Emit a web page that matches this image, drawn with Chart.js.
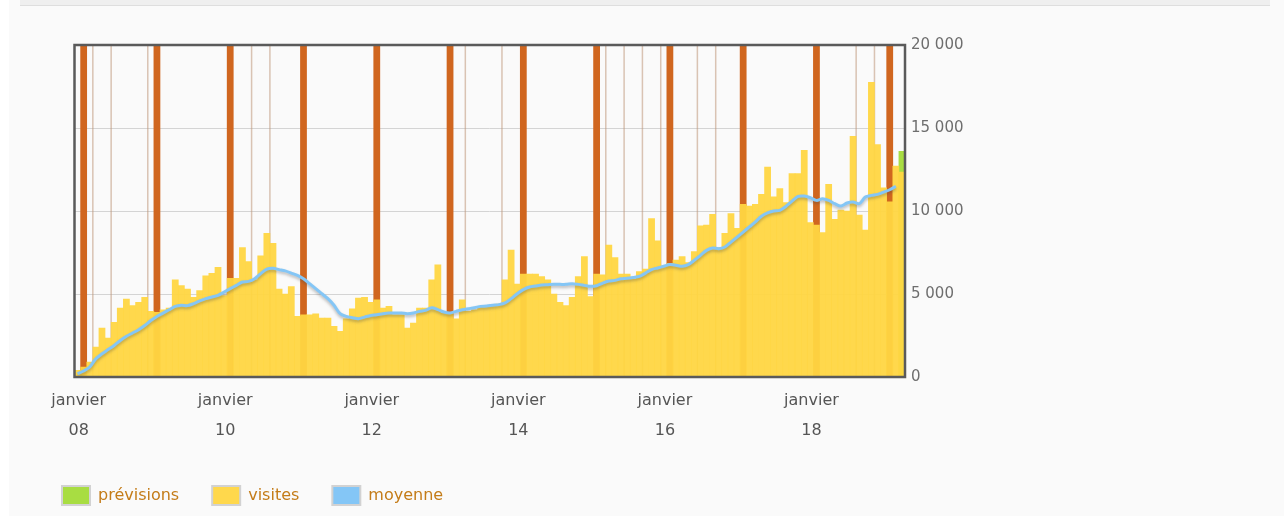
<!DOCTYPE html>
<html><head><meta charset="utf-8">
<script src="https://cdn.jsdelivr.net/npm/chart.js@4/dist/chart.umd.min.js"></script>
<style>
html,body{margin:0;padding:0;background:#fafafa;}
#wrap{position:relative;width:1284px;height:516px;overflow:hidden;}
#strip{position:absolute;left:0;top:0;width:9px;height:516px;background:#fff;}
#band{position:absolute;left:20px;top:0;width:1250px;height:5px;background:#efefef;border-bottom:1px solid #dedede;}
canvas{position:absolute;left:0;top:0;}
</style></head>
<body><div id="wrap"><div id="strip"></div><div id="band"></div><canvas id="c" width="1284" height="516"></canvas></div>
<script>
// Months from 2007-12 to 2019-03 (136 monthly slots)
const categories = [];
for (let i = 0; i < 136; i++) {
  const k = 11 + i;
  categories.push((2007 + Math.floor(k / 12)) + '-' + String(k % 12 + 1).padStart(2, '0'));
}
const tickMonths = ['2008-01', '2010-01', '2012-01', '2014-01', '2016-01', '2018-01'];
const tickText = [['janvier', '08'], ['janvier', '10'], ['janvier', '12'], ['janvier', '14'], ['janvier', '16'], ['janvier', '18']];
const yTicks = [0, 5000, 10000, 15000, 20000];

const visites = [
  400, 600, 900, 1800, 2950, 2350, 3300, 4150, 4700, 4300, 4500, 4800,
  3950, 3900, 4050, 4150, 5850, 5500, 5300, 4800, 5200, 6100, 6250, 6600,
  4900, 5950, 5950, 7800, 6950, 5850, 7300, 8650, 8050, 5300, 5000, 5450,
  3650, 3750, 3750, 3800, 3550, 3550, 3050, 2750, 3500, 4100, 4750, 4800,
  4500, 4650, 4150, 4250, 3750, 3750, 2950, 3250, 4150, 4150, 5850, 6750,
  3850, 3850, 3500, 4650, 3950, 4050, 4250, 4300, 4350, 4400, 5850, 7650,
  5600, 6200, 6200, 6200, 6050, 5850, 5000, 4500, 4300, 4800, 6050, 7250,
  4850, 6200, 6150, 7950, 7200, 6200, 6200, 5900, 6350, 6500, 9550, 8200,
  6700, 6850, 7050, 7250, 6900, 7550, 9100, 9150, 9800, 7800, 8650, 9850,
  8950, 10400, 10300, 10400, 11000, 12650, 10850, 11350, 10500, 12250, 12250, 13650,
  9300, 9150, 8700, 11600, 9500, 10050, 10000, 14500, 9750, 8850, 17750, 14000,
  11400, 10550, 12700, 12350
];
const moyenne = [
  200, 360, 600, 1100, 1400, 1650, 1900, 2200, 2450, 2650, 2850, 3100,
  3400, 3650, 3850, 4050, 4250, 4320, 4300, 4420, 4580, 4720, 4820, 4920,
  5120, 5320, 5520, 5720, 5760, 5920, 6230, 6500, 6550, 6470, 6390, 6260,
  6120, 5920, 5620, 5320, 5020, 4720, 4320, 3815, 3650, 3570, 3510, 3610,
  3710, 3750, 3815, 3855, 3855, 3855, 3815, 3855, 3955, 4015, 4175, 4055,
  3915, 3855, 3955, 4055, 4115, 4175, 4255, 4275, 4320, 4360, 4460, 4720,
  5020, 5260, 5420, 5480, 5540, 5560, 5580, 5580, 5580, 5620, 5580, 5520,
  5460, 5500, 5660, 5780, 5820, 5920, 5950, 6000, 6060, 6260, 6470, 6570,
  6670, 6770, 6730, 6670, 6770, 7030, 7330, 7630, 7770, 7730, 7830, 8130,
  8430, 8730, 9040, 9340, 9680, 9880, 10000, 10040, 10280, 10600, 10880, 10900,
  10800, 10640, 10740, 10640, 10440, 10300, 10480, 10540, 10440, 10840, 10940, 11000,
  11140, 11280, 11490, null
];
const previsionsMonths = ['2019-03'];
const previsionsValues = [13600];
const janvierMonths = ['2008-01', '2009-01', '2010-01', '2011-01', '2012-01', '2013-01', '2014-01', '2015-01', '2016-01', '2017-01', '2018-01', '2019-01'];
const noteMonths = ['2008-03', '2008-06', '2008-12', '2010-05', '2010-08', '2013-04', '2013-10', '2015-03', '2015-06', '2015-09', '2015-12', '2016-06', '2016-09', '2018-08', '2018-11'];

const COL = { prev: '#a8dd42', vis: 'rgba(255,214,66,0.95)', visSolid: '#ffd84c', moy: '#84c6f6', jan: '#d0661f', note: 'rgba(190,150,120,0.55)' };
const legendFill = [COL.moy, COL.visSolid, COL.prev];

const notesPlugin = {
  id: 'notes',
  beforeDatasetsDraw(chart) {
    const xs = chart.scales.x, a = chart.chartArea, ctx = chart.ctx;
    const w = xs.getPixelForValue(1) - xs.getPixelForValue(0);
    ctx.save();
    ctx.strokeStyle = COL.note; ctx.lineWidth = 1.5;
    noteMonths.forEach(m => {
      const x = xs.getPixelForValue(categories.indexOf(m)) - w / 2;
      ctx.beginPath(); ctx.moveTo(x, a.top); ctx.lineTo(x, a.bottom); ctx.stroke();
    });
    ctx.restore();
  }
};
const shadowPlugin = {
  id: 'lineShadow',
  beforeDatasetDraw(chart, args) {
    if (args.meta.type === 'line') {
      const c = chart.ctx; c.save();
      c.shadowColor = 'rgba(70,70,70,0.35)'; c.shadowBlur = 3; c.shadowOffsetY = 2;
    }
  },
  afterDatasetDraw(chart, args) { if (args.meta.type === 'line') chart.ctx.restore(); }
};
const framePlugin = {
  id: 'frame',
  afterDatasetsDraw(chart) {
    const a = chart.chartArea, ctx = chart.ctx;
    ctx.save(); ctx.strokeStyle = '#5a5a5a'; ctx.lineWidth = 2.5;
    ctx.strokeRect(a.left, a.top, a.right - a.left, a.bottom - a.top);
    ctx.restore();
  }
};

new Chart(document.getElementById('c'), {
  type: 'bar',
  data: {
    labels: categories,
    datasets: [
      { type: 'line', label: 'moyenne', data: moyenne, borderColor: COL.moy, backgroundColor: COL.moy,
        borderWidth: 3, pointRadius: 0, tension: 0.3, order: 0 },
      { label: 'visites', data: visites, backgroundColor: COL.vis, borderWidth: 0,
        grouped: false, barPercentage: 1, categoryPercentage: 1, order: 1 },
      { label: 'prévisions', data: previsionsMonths.map((m, i) => ({ x: m, y: previsionsValues[i] })),
        backgroundColor: COL.prev, borderWidth: 0, grouped: false, barPercentage: 1, categoryPercentage: 1, order: 2 },
      { label: 'janvier', data: janvierMonths.map(m => ({ x: m, y: 20000 })),
        backgroundColor: COL.jan, borderWidth: 0, grouped: false, barPercentage: 1, categoryPercentage: 1, order: 3 }
    ]
  },
  options: {
    responsive: false, animation: false, devicePixelRatio: 1,
    layout: { padding: { left: 29, right: 299, top: 45, bottom: 1 }, autoPadding: false },
    plugins: {
      tooltip: { enabled: false },
      legend: {
        position: 'bottom', align: 'start', reverse: true,
        labels: {
          boxWidth: 28, boxHeight: 19, padding: 33, color: '#c47c18',
          font: { family: 'DejaVu Sans', size: 16 },
          generateLabels(chart) {
            const items = Chart.defaults.plugins.legend.labels.generateLabels(chart);
            return items.filter(it => it.datasetIndex !== 3).map(it => Object.assign(it, {
              fillStyle: legendFill[it.datasetIndex], strokeStyle: '#d2d2d2', lineWidth: 2, lineDash: [], fontColor: '#c47c18'
            }));
          }
        }
      }
    },
    scales: {
      x: {
        offset: true,
        grid: { display: false, drawTicks: false },
        border: { display: false },
        afterFit(s) { s.height = 76; },
        ticks: {
          autoSkip: false, maxRotation: 0, minRotation: 0, padding: 9, labelOffset: -5,
          color: '#555', font: { family: 'DejaVu Sans', size: 16, lineHeight: 1.875 },
          callback(v, i) { const k = tickMonths.indexOf(categories[i]); return k >= 0 ? tickText[k] : null; }
        }
      },
      y: {
        position: 'right', min: 0, max: 20000,
        afterBuildTicks(s) { s.ticks = yTicks.map(v => ({ value: v })); },
        afterFit(s) { s.width = 80; },
        grid: { color: '#d4d4d4', lineWidth: 1, drawTicks: false },
        border: { display: false },
        ticks: {
          padding: 6, color: '#6e6e6e', font: { family: 'DejaVu Sans', size: 15 },
          callback(v) { return String(v).replace(/\B(?=(\d{3})+(?!\d))/g, ' '); }
        }
      },
      yL: {
        position: 'left', display: true,
        grid: { display: false, drawTicks: false }, border: { display: false },
        ticks: { display: false },
        afterFit(s) { s.width = 45.5; }
      }
    }
  },
  plugins: [notesPlugin, shadowPlugin, framePlugin]
});
</script>
</body></html>
